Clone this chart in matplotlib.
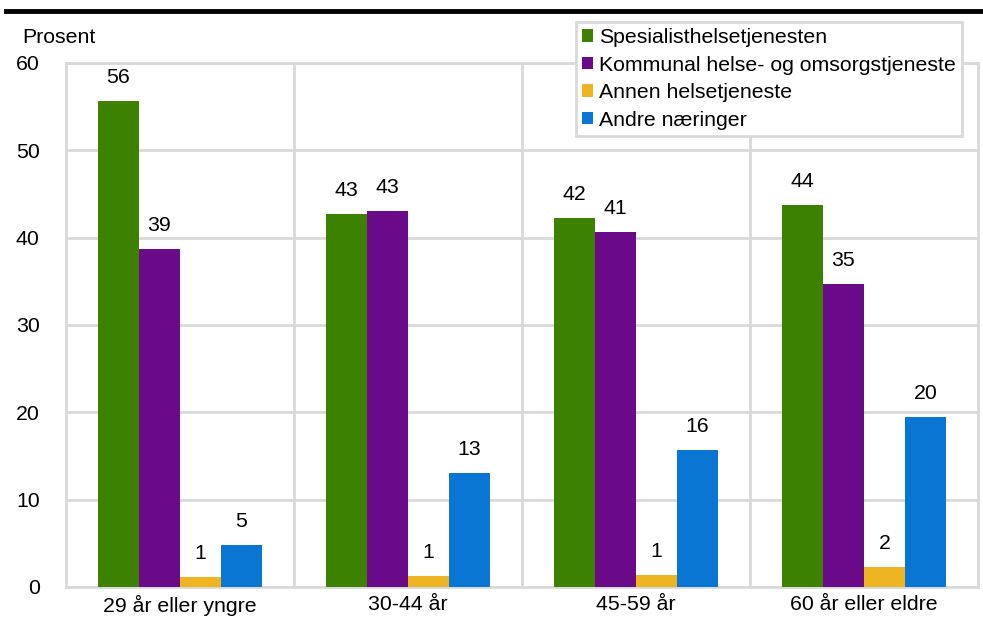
import numpy as np
import matplotlib.pyplot as plt

plt.rcParams['font.family'] = ['Liberation Sans', 'DejaVu Sans']

# Data
kategorier = ['29 år eller yngre', '30-44 år', '45-59 år', '60 år eller eldre']
serier = ['Spesialisthelsetjenesten', 'Kommunal helse- og omsorgstjeneste',
          'Annen helsetjeneste', 'Andre næringer']
spesialist = [55.7, 42.7, 42.3, 43.7]
kommunal = [38.7, 43.0, 40.7, 34.7]
annen_helse = [1.1, 1.3, 1.4, 2.3]
andre = [4.8, 13.1, 15.7, 19.5]
farger = ['#3C8200', '#6B0A88', '#EFB422', '#0A76D3']

verdier = [spesialist, kommunal, annen_helse, andre]

fs = 15.3
fig = plt.figure(figsize=(9.83, 6.17), dpi=100)
ax = fig.add_axes([66 / 983, 1 - 587 / 617, (978 - 66) / 983, (587 - 63) / 617])

grid_col = '#D9D9D9'
x = np.arange(len(kategorier))
w = 0.18
for i, (navn, vals, c) in enumerate(zip(serier, verdier, farger)):
    pos = x + (i - 1.5) * w
    ax.bar(pos, vals, width=w, color=c, label=navn, zorder=3)
    for px, v in zip(pos, vals):
        ax.text(px, v + 1.6, f'{round(v):.0f}', ha='center', va='bottom', fontsize=fs)

ax.set_xlim(-0.5, len(kategorier) - 0.5)
ax.set_ylim(0, 60)
ax.set_yticks(range(0, 61, 10))
ax.set_xticks(x)
ax.set_xticklabels(kategorier, fontsize=fs)
ax.tick_params(axis='y', labelsize=fs, length=0, pad=19)
ax.tick_params(axis='x', length=0, pad=6)

ax.grid(axis='y', color=grid_col, linewidth=2, zorder=0)
for b in np.arange(0.5, len(kategorier) - 0.5, 1):
    ax.axvline(b, color=grid_col, linewidth=2, zorder=0)
for s in ax.spines.values():
    s.set_color(grid_col)
    s.set_linewidth(2)
    s.set_zorder(0)

ax.text(-0.048, 1.03, 'Prosent', transform=ax.transAxes, ha='left', va='bottom', fontsize=fs)

leg = ax.legend(loc='upper right', bbox_to_anchor=(0.9825, 1.078), fontsize=fs,
                handlelength=0.5, handleheight=0.5, handletextpad=0.3,
                labelspacing=0.4, borderpad=0.28, borderaxespad=0, fancybox=False, framealpha=1)
leg.get_frame().set_edgecolor(grid_col)
leg.get_frame().set_linewidth(2)
leg.set_zorder(5)

# Black rule at the top of the figure
fig.add_artist(plt.Line2D([6 / 983, 983 / 983], [1 - 11 / 617, 1 - 11 / 617],
                          color='black', linewidth=3.5))

fig.savefig('out.png', dpi=100)
